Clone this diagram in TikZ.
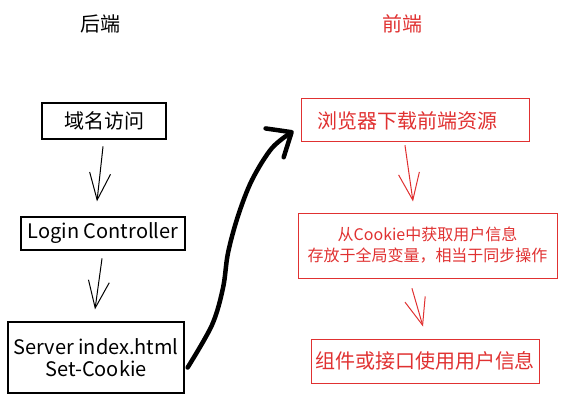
\documentclass[tikz,border=0pt]{standalone}
\usepackage{fontspec}
\setmainfont{Noto Sans CJK SC}
\usetikzlibrary{arrows.meta,calc}
\definecolor{exred}{RGB}{224,49,49}
\begin{document}
\begin{tikzpicture}[x=1pt,y=-1pt,
  bbox/.style={draw=black, line width=1.3pt, rectangle, inner sep=0pt, align=center},
  rbox/.style={draw=exred, text=exred, line width=1pt, rectangle, inner sep=0pt, align=center},
  big/.style={font=\fontsize{20}{24}\selectfont},
  lat/.style={font=\fontsize{20}{22}\selectfont},
  small/.style={font=\fontsize{16}{21}\selectfont},
  arr/.style={line width=1pt, line cap=round, -{Straight Barb[length=27pt,width=21pt]}},
  thickarr/.style={line width=4.5pt, line cap=round, line join=round, -{Straight Barb[length=20pt,width=34pt,round]}}
]
\useasboundingbox (0,0) rectangle (566,404);

% titles
\node[big] (tb) at (101,24) {后端};
\node[big, text=exred] (tf) at (402,24) {前端};

% backend boxes
\node[bbox, big, minimum width=124pt, minimum height=36pt] (b1) at (104,121) {域名访问};
\node[bbox, lat, minimum width=164pt, minimum height=33pt] (b2) at (103,233.5) {Login Controller};
\node[bbox, lat, minimum width=176pt, minimum height=71pt] (b3) at (96,357.5) {Server index.html\\Set-Cookie};

% frontend boxes
\node[rbox, minimum width=228pt, minimum height=43pt,
  label={[text=exred, big, xshift=-8pt]center:浏览器下载前端资源}] (r1) at (415,120.5) {};
\node[rbox, small, minimum width=259pt, minimum height=65pt] (r2) at (427.5,245.5) {从Cookie中获取用户信息\\存放于全局变量，相当于同步操作};
\node[rbox, big, minimum width=228pt, minimum height=44pt] (r3) at (425,361) {组件或接口使用用户信息};

% thin arrows
\draw[arr] ($(b1.south)+(-1,7)$) -- ($(b2.north)+(-6,-15)$);
\draw[arr] ($(b2.south)+(-1,8)$) -- ($(b3.north)+(-1,-12)$);
\draw[arr, draw=exred] ($(r1.south)+(-10,3)$) -- ($(r2.north)+(-14.5,-11)$);
\draw[arr, draw=exred] ($(r2.south)+(-15.5,10)$) -- ($(r3.north)+(-2,-12)$);

% thick curved arrow
\coordinate (s) at ($(b3.east)+(3,10)$);
\coordinate (t) at ($(r1.west)+(-7,10.5)$);
\draw[thickarr] plot[smooth, tension=0.55] coordinates {(s) (212,325) (223,288) (228,253) (238,216) (252,180) (272,148) (t)};
\end{tikzpicture}
\end{document}
